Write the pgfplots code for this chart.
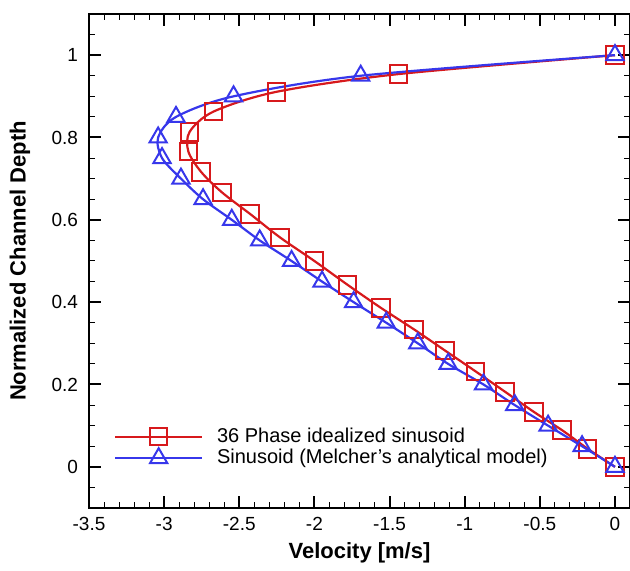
\documentclass[border=0pt]{standalone}
\usepackage{fontspec}
\setmainfont{Liberation Sans}
\usepackage{pgfplots}
\pgfplotsset{compat=1.18}
\definecolor{myred}{RGB}{215,25,28}
\definecolor{myblue}{RGB}{55,55,235}
\begin{document}
\begin{tikzpicture}
\begin{axis}[
  name=ax,
  scale only axis, width=270.5pt, height=247pt,
  xmin=-3.5, xmax=0.1, ymin=-0.1, ymax=1.1,
  xtick={-3.5,-3,-2.5,-2,-1.5,-1,-0.5,0},
  ytick={0,0.2,0.4,0.6,0.8,1},
  minor x tick num=4,
  minor ytick={-0.05,0.05,0.1,0.15,0.25,0.3,0.35,0.45,0.5,0.55,0.65,0.7,0.75,0.85,0.9,0.95,1.05},
  tick align=inside,
  major tick length=6pt, minor tick length=3pt,
  major tick style={line width=1pt, black},
  minor tick style={line width=0.5pt, black},
  axis line style={line width=1pt},
  /pgf/number format/assume math mode=true,
  tick label style={font=\fontsize{9.5}{11}\selectfont},
  yticklabel style={xshift=-2pt},
  xticklabel style={yshift=-1pt},
  xlabel={Velocity [m/s]},
  ylabel={Normalized Channel Depth},
  every axis x label/.style={at={(rel axis cs:0.5,0)}, anchor=center, yshift=-22.5pt, font=\fontsize{11}{13}\selectfont\bfseries},
  every axis y label/.style={at={(rel axis cs:0,0.5)}, xshift=-34.5pt, rotate=90, anchor=center, font=\fontsize{11}{13}\selectfont\bfseries},
  legend style={draw=none, fill=none, at={(rel axis cs:0.035,0.175)}, anchor=north west,
    font=\fontsize{10}{12}\selectfont, row sep=0pt,
    nodes={inner sep=1pt}},
  legend cell align=left,
  legend image code/.code={\draw[mark repeat=2,mark phase=2] plot coordinates {(0cm,0cm)(0.76cm,0cm)(1.52cm,0cm)};},
  /tikz/every odd column/.append style={column sep=6pt},
]
\addplot[myred, line width=1.1pt, smooth, mark=square, mark size=4.4pt, mark options={line width=1pt, solid}] coordinates {
(0,0) (-0.182,0.044) (-0.352,0.089) (-0.538,0.133) (-0.730,0.182) (-0.928,0.232)
(-1.133,0.283) (-1.338,0.334) (-1.557,0.386) (-1.779,0.442) (-2.0,0.5)
(-2.228,0.557) (-2.427,0.614) (-2.613,0.666) (-2.753,0.716) (-2.839,0.766)
(-2.830,0.814) (-2.671,0.863) (-2.252,0.911) (-1.441,0.954) (0,1)
};
\addlegendentry{36 Phase idealized sinusoid}
\addplot[myblue, line width=1.1pt, smooth, mark=triangle, mark size=5pt, mark options={line width=1pt, solid}] coordinates {
(0,0) (-0.219,0.05) (-0.445,0.1) (-0.667,0.15) (-0.875,0.2) (-1.110,0.25)
(-1.312,0.3) (-1.522,0.35) (-1.739,0.4) (-1.949,0.45) (-2.152,0.5)
(-2.364,0.55) (-2.550,0.6) (-2.741,0.65) (-2.888,0.7) (-3.014,0.75)
(-3.040,0.8) (-2.921,0.85) (-2.538,0.9) (-1.692,0.95) (0,1)
};
\addlegendentry{Sinusoid (Melcher's analytical model)}
\end{axis}
\pgfresetboundingbox
\path ([xshift=-44.5pt,yshift=-31.5pt]ax.south west) rectangle ([yshift=7pt]ax.north east);
\end{tikzpicture}
\end{document}
